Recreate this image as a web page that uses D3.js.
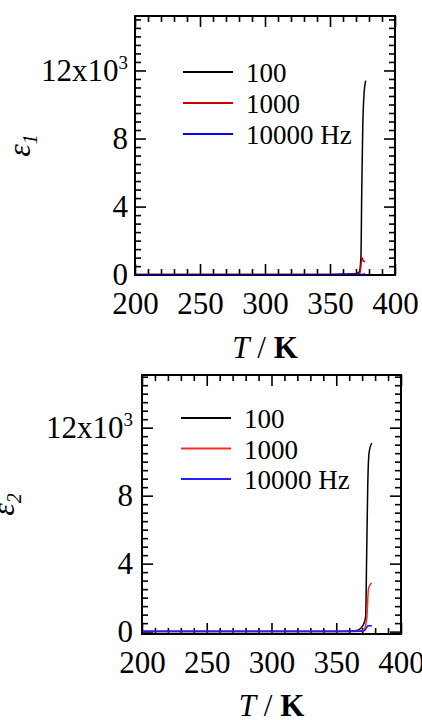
<!DOCTYPE html>
<html>
<head>
<meta charset="utf-8">
<script src="https://cdn.jsdelivr.net/npm/d3@7"></script>
<style>
  body { margin: 0; background: #fff; }
  svg, svg text { font-family: "Liberation Serif", "DejaVu Serif", serif; }
</style>
</head>
<body>
<script>
// Data (T in K, permittivity values)
const freqLabels = ["100", "1000", "10000 Hz"];
const topColors = ["#000000", "#cc0000", "#0000ff"];
const bottomColors = ["#000000", "#ff2a2a", "#2020ff"];

// eps1 (real part)
const e1T100 = [200, 250, 300, 350, 370, 372.5, 373.8, 374.4, 375.2, 376.2, 377.5];
const e1V100 = [10, 10, 10, 15, 60, 150, 1030, 4770, 8670, 10650, 11400];
const e1T1000 = [200, 250, 300, 350, 370, 373, 374.6, 375.6, 376.9];
const e1V1000 = [5, 5, 5, 8, 20, 100, 1000, 820, 750];
const e1T10000 = [200, 250, 300, 350, 370, 374, 376, 377];
const e1V10000 = [2, 2, 2, 2, 5, 15, 30, 40];

// eps2 (imaginary part)
const e2T100 = [200, 250, 300, 350, 360, 365.8, 370.9, 372.7, 373.5, 374.3, 375.3, 377.4];
const e2V100 = [20, 20, 20, 25, 40, 60, 390, 880, 4600, 8500, 10500, 11100];
const e2T1000 = [200, 250, 300, 350, 365, 370.9, 373.5, 374.8, 376, 377.4];
const e2V1000 = [10, 10, 10, 10, 20, 60, 690, 2450, 2750, 2850];
const e2T10000 = [200, 250, 300, 350, 370, 372.2, 374.3, 375.5, 377.4];
const e2V10000 = [5, 5, 5, 5, 20, 100, 330, 350, 350];

const xMajorTicks = [200, 250, 300, 350, 400];
const yMajorTicks = [0, 4000, 8000, 12000];

const width = 422, height = 720;
const svg = d3.select("body").append("svg")
  .attr("width", width)
  .attr("height", height);

function zip(ts, vs) {
  return ts.map((t, i) => ({t: t, v: vs[i]}));
}

function drawPanel(opt) {
  const x = d3.scaleLinear().domain([200, 400]).range([opt.left, opt.right]);
  const y = d3.scaleLinear().domain(opt.yDomain).range([opt.bottom, opt.top]);
  const g = svg.append("g");

  const xMinor = d3.range(200, 401, 10).filter(d => d % 50 !== 0);
  const yMinor = d3.range(0, 15001, 500).filter(d => d % 4000 !== 0 && y(d) >= opt.top + 1);

  // minor + major ticks on all four sides, pointing inward
  const axes = [
    [d3.axisBottom(x), `translate(0,${opt.bottom})`, xMinor, xMajorTicks],
    [d3.axisTop(x), `translate(0,${opt.top})`, xMinor, xMajorTicks],
    [d3.axisLeft(y), `translate(${opt.left},0)`, yMinor, yMajorTicks],
    [d3.axisRight(y), `translate(${opt.right},0)`, yMinor, yMajorTicks]
  ];
  axes.forEach(([ax, tr, minor, major]) => {
    g.append("g").attr("transform", tr)
      .call(ax.tickValues(minor).tickSize(-6).tickFormat(""))
      .call(s => s.select(".domain").remove())
      .selectAll("line").attr("stroke", "#000").attr("stroke-width", 1.6);
    g.append("g").attr("transform", tr)
      .call(ax.tickValues(major).tickSize(-11).tickFormat(""))
      .call(s => s.select(".domain").remove())
      .selectAll("line").attr("stroke", "#000").attr("stroke-width", 1.6);
  });

  // tick labels
  const gx = g.append("g").attr("transform", `translate(0,${opt.bottom})`)
    .call(d3.axisBottom(x).tickValues(xMajorTicks).tickSize(0).tickPadding(17));
  gx.attr("font-family", null).attr("font-size", null);
  gx.select(".domain").remove();
  gx.selectAll("text").attr("font-size", 31).attr("fill", "#000");

  const gy = g.append("g").attr("transform", `translate(${opt.left},0)`)
    .call(d3.axisLeft(y).tickValues(yMajorTicks).tickSize(0).tickPadding(opt.yPad)
      .tickFormat(d => d / 1000));
  gy.attr("font-family", null).attr("font-size", null);
  gy.select(".domain").remove();
  gy.selectAll("text").attr("font-size", 31).attr("fill", "#000")
    .each(function(d) {
      if (d === 12000) {
        const t = d3.select(this).text("12x10");
        t.append("tspan").attr("dy", "-0.62em").attr("font-size", 19).text("3");
      }
    });

  // curves
  const line = d3.line().x(d => x(d.t)).y(d => y(d.v)).curve(d3.curveMonotoneX);
  opt.series.forEach((s, i) => {
    g.append("path")
      .datum(s)
      .attr("d", line)
      .attr("fill", "none")
      .attr("stroke", opt.colors[i])
      .attr("stroke-width", 1.5);
  });

  // frame
  g.append("rect")
    .attr("x", opt.left).attr("y", opt.top)
    .attr("width", opt.right - opt.left).attr("height", opt.bottom - opt.top)
    .attr("fill", "none").attr("stroke", "#000").attr("stroke-width", 2);

  // redraw the flat 10000 Hz trace on top of the frame, as in the original
  g.append("path")
    .datum(opt.series[2])
    .attr("d", line)
    .attr("fill", "none")
    .attr("stroke", opt.colors[2])
    .attr("stroke-opacity", 0.5)
    .attr("stroke-width", 1.5);

  // legend
  freqLabels.forEach((lab, i) => {
    const ly = opt.legendY + i * opt.legendGap;
    g.append("line")
      .attr("x1", opt.legendX).attr("x2", opt.legendX + 50)
      .attr("y1", ly).attr("y2", ly)
      .attr("stroke", opt.colors[i]).attr("stroke-width", 2);
    g.append("text")
      .attr("x", opt.legendX + 63).attr("y", ly + 10)
      .attr("font-size", 27).attr("fill", "#000")
      .text(lab);
  });

  // axis titles
  const xt = g.append("text")
    .attr("x", (opt.left + opt.right) / 2).attr("y", opt.xTitleY)
    .attr("text-anchor", "middle").attr("font-size", 31);
  xt.append("tspan").attr("font-style", "italic").text("T");
  xt.append("tspan").text(" / ");
  xt.append("tspan").attr("font-weight", "bold").text("K");

  const yt = g.append("text")
    .attr("transform", `translate(${opt.yTitleX},${(opt.top + opt.bottom) / 2}) rotate(-90)`)
    .attr("text-anchor", "middle").attr("font-size", 32).attr("font-style", "italic");
  yt.append("tspan").text("\u03b5");
  yt.append("tspan").attr("font-size", 20).attr("dy", "0.35em").text(opt.sub);
}

drawPanel({
  left: 135, right: 395, top: 16, bottom: 275,
  yDomain: [-20, 15200], yPad: 7,
  legendX: 183, legendY: 72, legendGap: 31,
  xTitleY: 358, yTitleX: 30, sub: "1",
  colors: topColors,
  series: [zip(e1T100, e1V100), zip(e1T1000, e1V1000), zip(e1T10000, e1V10000)]
});

drawPanel({
  left: 142, right: 401, top: 375, bottom: 634,
  yDomain: [-140, 15100], yPad: 9,
  legendX: 181, legendY: 418, legendGap: 30.5,
  xTitleY: 716, yTitleX: 14, sub: "2",
  colors: bottomColors,
  series: [zip(e2T100, e2V100), zip(e2T1000, e2V1000), zip(e2T10000, e2V10000)]
});
</script>
</body>
</html>
